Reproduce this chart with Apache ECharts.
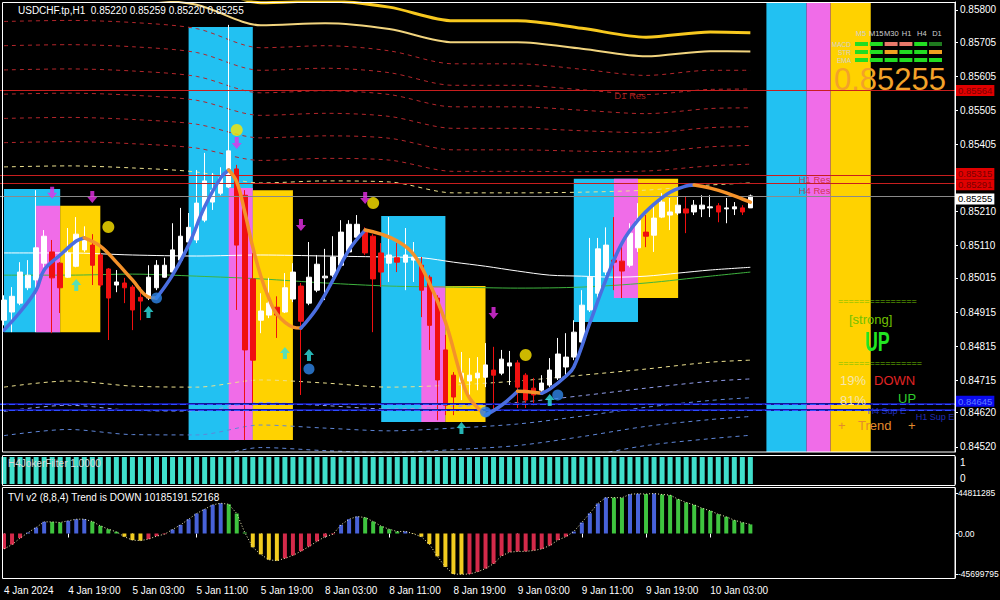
<!DOCTYPE html>
<html><head><meta charset="utf-8">
<script src="https://cdn.jsdelivr.net/npm/echarts@6/dist/echarts.min.js"></script>
<style>html,body{margin:0;padding:0;background:#000;}#c{width:1000px;height:600px;}</style>
</head><body><div id="c"></div>
<script>
// ---------------- DATA ----------------
const titleText = 'USDCHF.tp,H1  0.85220 0.85259 0.85220 0.85255';
const sessions = [['4 Jan', 11, 23], ['5 Jan', 0, 23], ['8 Jan', 0, 23], ['9 Jan', 0, 23], ['10 Jan', 0, 8]];
const futureSessions = [['10 Jan', 9, 23], ['11 Jan', 0, 9]];
const xTickBars = ['4 Jan 11:00','4 Jan 19:00','5 Jan 03:00','5 Jan 11:00','5 Jan 19:00','8 Jan 03:00','8 Jan 11:00','8 Jan 19:00','9 Jan 03:00','9 Jan 11:00','9 Jan 19:00','10 Jan 03:00'];
const xTickLabels = ['4 Jan 2024','4 Jan 19:00','5 Jan 03:00','5 Jan 11:00','5 Jan 19:00','8 Jan 03:00','8 Jan 11:00','8 Jan 19:00','9 Jan 03:00','9 Jan 11:00','9 Jan 19:00','10 Jan 03:00'];
const priceTicks = [0.85800,0.85705,0.85605,0.85505,0.85405,0.85210,0.85110,0.85015,0.84915,0.84815,0.84715,0.84620,0.84520];

// candles: [open, close, low, high]
const candles = [
[0.84891,0.84950,0.84876,0.84964],[0.84915,0.84961,0.84856,0.84988],[0.84941,0.85032,0.84935,0.85061],[0.84986,0.85023,0.84979,0.85067],
[0.85009,0.85103,0.84856,0.85272],[0.85058,0.85137,0.85046,0.85155],[0.85091,0.85015,0.84853,0.85126],[0.85058,0.84986,0.84912,0.85061],
[0.85017,0.85088,0.85015,0.85161],[0.85049,0.85143,0.85046,0.85193],[0.85097,0.85126,0.85091,0.85166],[0.85111,0.85052,0.84994,0.85143],
[0.85082,0.84994,0.84988,0.85088],[0.85041,0.84956,0.84833,0.85044],[0.84994,0.85003,0.84973,0.85038],[0.85000,0.84986,0.84941,0.85015],
[0.84988,0.84921,0.84862,0.84994],[0.84958,0.84947,0.84891,0.84988],[0.84956,0.85017,0.84950,0.85052],[0.84986,0.85052,0.84979,0.85067],
[0.85017,0.85052,0.85015,0.85074],[0.85032,0.85097,0.85029,0.85175],[0.85067,0.85137,0.85061,0.85220],[0.85120,0.85163,0.85117,0.85205],
[0.85126,0.85234,0.85117,0.85331],[0.85184,0.85299,0.85178,0.85381],[0.85237,0.85272,0.85214,0.85322],[0.85263,0.85308,0.85257,0.85339],
[0.85281,0.85387,0.85278,0.85756],[0.85334,0.85111,0.84921,0.85346],[0.85257,0.84804,0.84540,0.85272],[0.85012,0.84774,0.84642,0.85088],
[0.84891,0.84918,0.84853,0.84970],[0.84906,0.84941,0.84897,0.85015],[0.84929,0.84906,0.84839,0.84961],[0.84915,0.84986,0.84912,0.85029],
[0.84953,0.85032,0.84944,0.85058],[0.84991,0.84888,0.84672,0.85000],[0.84941,0.85017,0.84935,0.85120],[0.84979,0.85055,0.84973,0.85082],
[0.85015,0.85020,0.84950,0.85100],[0.85023,0.85076,0.85017,0.85137],[0.85052,0.85149,0.85046,0.85184],[0.85091,0.85172,0.85088,0.85184],
[0.85134,0.85172,0.85132,0.85199],[0.85152,0.85088,0.85082,0.85163],[0.85137,0.85012,0.84856,0.85143],[0.85088,0.85032,0.84988,0.85117],
[0.85058,0.85082,0.85003,0.85193],[0.85074,0.85061,0.85032,0.85117],[0.85061,0.85082,0.84979,0.85161],[0.85067,0.85076,0.85003,0.85120],
[0.85052,0.84979,0.84900,0.85076],[0.85017,0.84876,0.84804,0.85023],[0.84956,0.84716,0.84598,0.84964],[0.84804,0.84642,0.84613,0.84848],
[0.84730,0.84666,0.84613,0.84739],[0.84710,0.84736,0.84657,0.84798],[0.84713,0.84730,0.84672,0.84780],[0.84722,0.84736,0.84686,0.84783],
[0.84724,0.84760,0.84695,0.84824],[0.84745,0.84730,0.84628,0.84813],[0.84736,0.84777,0.84730,0.84804],[0.84757,0.84766,0.84701,0.84801],
[0.84766,0.84695,0.84634,0.84774],[0.84730,0.84657,0.84634,0.84736],[0.84692,0.84672,0.84642,0.84722],[0.84686,0.84707,0.84677,0.84730],
[0.84701,0.84745,0.84695,0.84780],[0.84722,0.84792,0.84716,0.84839],[0.84754,0.84783,0.84730,0.84853],[0.84783,0.84856,0.84774,0.84891],
[0.84827,0.84935,0.84818,0.84979],[0.84921,0.85017,0.84915,0.85132],[0.84970,0.85100,0.84950,0.85132],[0.85032,0.85111,0.85023,0.85163],
[0.85067,0.85061,0.84979,0.85193],[0.85064,0.85035,0.84956,0.85111],[0.85052,0.85146,0.85046,0.85175],[0.85103,0.85184,0.85091,0.85234],
[0.85149,0.85137,0.85105,0.85199],[0.85140,0.85190,0.85091,0.85228],[0.85193,0.85237,0.85190,0.85263],[0.85199,0.85208,0.85155,0.85249],
[0.85205,0.85228,0.85199,0.85252],[0.85217,0.85205,0.85146,0.85252],[0.85208,0.85228,0.85199,0.85243],[0.85217,0.85228,0.85193,0.85257],
[0.85220,0.85223,0.85193,0.85257],[0.85226,0.85208,0.85178,0.85234],[0.85217,0.85220,0.85175,0.85249],[0.85217,0.85223,0.85199,0.85237],
[0.85220,0.85208,0.85199,0.85228],[0.85220,0.85255,0.85220,0.85259]
];

// smoothed trend line, sampled [bar, price]
const trendPts = [[0,0.84862],[2,0.84915],[4,0.84979],[5,0.85038],[7,0.85082],[9,0.85123],[10,0.85132],[12,0.85108],[14,0.85061],[16,0.85009],[18,0.84959],[19,0.84956],[21,0.85023],[23,0.85111],[25,0.85223],[27,0.85308],[28,0.85331],[29,0.85296],[30,0.85208],[31,0.85105],[32,0.85020],[33,0.84956],[34,0.84909],[36,0.84871],[37,0.84868],[39,0.84927],[41,0.85009],[43,0.85097],[45,0.85155],[47,0.85143],[49,0.85123],[51,0.85085],[53,0.85000],[55,0.84886],[57,0.84722],[58,0.84663],[60,0.84613],[62,0.84642],[64,0.84683],[65,0.84682],[67,0.84677],[68,0.84689],[70,0.84727],[71,0.84754],[73,0.84883],[75,0.85009],[77,0.85117],[79,0.85184],[81,0.85231],[83,0.85266],[85,0.85284],[86,0.85287],[88,0.85278],[90,0.85264],[92,0.85246],[93,0.85237]];

// moving averages sampled at bars
const maBars = [0,8,16,24,32,40,48,52,56,60,64,68,72,76,80,84,88,93];
const whiteMA = [0.85088,0.85088,0.85082,0.85079,0.85082,0.85079,0.85076,0.85074,0.85061,0.85049,0.85035,0.85023,0.85020,0.85017,0.85020,0.85029,0.85038,0.85046];
const greenBars = [0,8,16,24,32,40,48,56,64,72,80,88,93];
const greenMA = [0.85023,0.85023,0.85026,0.85020,0.85012,0.85000,0.84991,0.84988,0.84985,0.84988,0.85000,0.85020,0.85032];

// envelope bands sampled at bars
const bandBars = [0,8,16,24,32,40,48,56,64,72,80,88,93];
const upperEdge = [0.85340,0.85343,0.85337,0.85325,0.85293,0.85299,0.85296,0.85264,0.85264,0.85266,0.85272,0.85287,0.85293];
const lowerEdge = [0.84695,0.84713,0.84698,0.84695,0.84716,0.84707,0.84695,0.84701,0.84713,0.84730,0.84748,0.84768,0.84774];
const bandGap = [0.00071,0.00071,0.00071,0.00070,0.00066,0.00066,0.00064,0.00063,0.00063,0.00060,0.00056,0.00056,0.00055];

// coloured zones [fromBar, toBar, low, high]
const zoneCyan = [[0,7,0.84856,0.85275],[23,31,0.84540,0.85750],[47,55,0.84593,0.85196],[71,79,0.84886,0.85305]];
const zonePink = [[4,7,0.84856,0.85226],[28,31,0.84540,0.85278],[52,55,0.84593,0.84991],[76,79,0.84956,0.85305]];
const zoneYellow = [[7,12,0.84856,0.85226],[31,36,0.84540,0.85272],[55,60,0.84593,0.84991],[79,84,0.84956,0.85305]];
const fullZoneBars = {cyan: [95,100], pink: [100,103], yellow: [103,108]};

// signals [bar, price]
const sellArrows = [[6,0.85264],[11,0.85252],[29,0.85410],[37,0.85170],[45,0.85249],[61,0.84912]];
const buyArrows = [[9,0.84994],[18,0.84915],[35,0.84795],[38,0.84789],[57,0.84575],[68,0.84657]];
const yellowDots = [[13,0.85164],[29,0.85448],[46,0.85234],[65,0.84789]];
const blueDots = [[19,0.84956],[38,0.84748],[60,0.84622],[69,0.84672]];

// levels
const resLevels = [0.85564, 0.85315, 0.85291];
const resNames = ['D1 Res', 'H1 Res', 'H4 Res'];
const resNameBars = [78, 101, 101];
const supLevels = [0.84645, 0.84628];
const supNames = ['H4 Sup E', 'H1 Sup E'];
const supNameBars = [110, 116];
const bidPrice = 0.85255;

// H4JokerFilter
const joker = [1,1,1,1,1,1,1,1,1,1,1,1,1,1,1,1,1,1,1,1,1,1,1,1,1,1,1,1,1,1,1,1,1,1,1,1,1,1,1,1,1,1,1,1,1,1,1,1,1,1,1,1,1,1,1,1,1,1,1,1,1,1,1,1,1,1,1,1,1,1,1,1,1,1,1,1,1,1,1,1,1,1,1,1,1,1,1,1,1,1,1,1,1,1];
const jokerLabel = 'H4JokerFilter 1.0000';

// TVI v2
const tvi = [-17300000,-12400000,-5200000,1100000,6700000,13100000,13000000,12300000,14200000,16000000,
16100000,13400000,8600000,4800000,1900000,-3600000,-7400000,-8000000,-6300000,-3000000,
-800000,4500000,9700000,16000000,22400000,27200000,32100000,33900000,32800000,22400000,
1100000,-15400000,-23400000,-29400000,-30500000,-27800000,-24500000,-19800000,-14600000,-8800000,
-3600000,-800000,9700000,16000000,19000000,17900000,13400000,8200000,4800000,2200000,
2400000,-300000,-3600000,-11800000,-25600000,-37400000,-45400000,-45699795,-45400000,-42900000,
-39300000,-33800000,-25000000,-20900000,-20100000,-20000000,-19000000,-17300000,-13500000,-7400000,
-3600000,2200000,12300000,22700000,33600000,40300000,40200000,40000000,44000000,44500000,
44200000,44811285,43700000,43000000,38400000,34700000,32100000,28300000,25400000,21600000,
18700000,14900000,12300000,10185191.52168];
const tviTicks = [44811285, 0, -45699795];
const tviLabel = 'TVI v2 (8,8,4) Trend is DOWN 10185191.52168';

// dashboard
const tfNames = ['M5','M15','M30','H1','H4','D1'];
const dashRows = ['MACD','STR','EMA'];
const dashStates = [['up','up','weak','weak','up','hold'],['up','up','mid','up','up','mid'],['up','up','up','up','up','up']];
const bigPrice = '0.85255';
const strengthWord = '[strong]';
const strengthDir = 'UP';
const pctDown = '19%', pctUp = '81%';

// ---------------- BUILD ----------------
const FONT = '"Liberation Sans", Arial, sans-serif';
function buildCats(list){ const out=[]; list.forEach(([d,a,b])=>{ for(let h=a;h<=b;h++) out.push(d+' '+String(h).padStart(2,'0')+':00'); }); return out; }
const barCats = buildCats(sessions);
const categories = barCats.concat(buildCats(futureSessions));
const tickMap = {}; xTickBars.forEach((b,i)=>tickMap[b]=xTickLabels[i]);

const priceMin = 0.84505, priceMax = 0.85823;

const C = {cyan:'#22c1f2', pink:'#f06ce8', yellow:'#ffd200', bull:'#ffffff', bear:'#f01010',
  up:'#4a6ee0', down:'#f4922a', red:'#c81e1e', bandRed:'#b3262b', bandYel:'#ece08e', bandBlue:'#5f86d8', bandBlue1:'#8f9be8',
  solid1:'#f7c81e', solid2:'#f1d47e', white:'#ffffff', green:'#3fb43f'};

function zoneSeries(data, color){
  return {type:'custom', xAxisIndex:0, yAxisIndex:0, z:1, silent:true, encode:{x:[0,1], y:[2,3]},
    data: data,
    renderItem:(params, api)=>{
      const p1 = api.coord([api.value(0), api.value(3)]);
      const p2 = api.coord([api.value(1), api.value(2)]);
      return {type:'rect', shape:{x:p1[0], y:p1[1], width:p2[0]-p1[0], height:p2[1]-p1[1]}, style:{fill:color}};
    }};
}
const series = [];
series.push(zoneSeries(zoneCyan.concat([[fullZoneBars.cyan[0], fullZoneBars.cyan[1], priceMin, priceMax]]), C.cyan));
series.push(zoneSeries(zonePink.concat([[fullZoneBars.pink[0], fullZoneBars.pink[1], priceMin, priceMax]]), C.pink));
series.push(zoneSeries(zoneYellow.concat([[fullZoneBars.yellow[0], fullZoneBars.yellow[1], priceMin, priceMax]]), C.yellow));

function bandLine(edge, k, sign){ return bandBars.map((b,j)=>[b, +(edge[j] + sign*k*bandGap[j]).toFixed(5)]); }
function lineS(data, color, width, type, z){ return {type:'line', xAxisIndex:0, yAxisIndex:0, data, smooth:0.3, showSymbol:false, silent:true, z:z||2,
  lineStyle:{color, width, type: type||'solid'}}; }
// upper bands
series.push(lineS(bandLine(upperEdge,0,1), C.bandYel, 1, [4,4]));
for(let k=1;k<=6;k++) series.push(lineS(bandLine(upperEdge,k,1), C.bandRed, 1, [4,4]));
series.push(lineS(bandLine(upperEdge,7,1), C.solid2, 2));
series.push(lineS(bandLine(upperEdge,8,1), C.solid1, 3));
// lower bands
series.push(lineS(bandLine(lowerEdge,0,-1), C.bandYel, 1, [4,4]));
series.push(lineS(bandLine(lowerEdge,1,-1), C.bandBlue1, 1, [4,4]));
for(let k=2;k<=4;k++) series.push(lineS(bandLine(lowerEdge,k,-1), C.bandBlue, 1, [4,4]));
// MAs
series.push(lineS(maBars.map((b,i)=>[b, whiteMA[i]]), C.white, 1, 'solid', 3));
series.push(lineS(greenBars.map((b,i)=>[b, greenMA[i]]), C.green, 1, 'solid', 3));

// level lines (labels in the price scale)
const resLabelShift = [0, -2, 1];
const mlData = [];
resLevels.forEach((p,i)=>mlData.push({yAxis:p, lineStyle:{color:C.red, width:1, type:'solid'},
  label:{show:true, formatter:p.toFixed(5), backgroundColor:'#e00000', color:'#7a0000', offset:[0, resLabelShift[i]]}}));
supLevels.forEach((p,i)=>{
  mlData.push({yAxis:p, lineStyle:{color:'#15159a', width:2, type:'solid'},
    label: i===0 ? {show:true, formatter:p.toFixed(5), backgroundColor:'#0b0bf0', color:'#5d7cff', offset:[0,-3]} : {show:false}});
  mlData.push({yAxis:p, lineStyle:{color:'#2f4dff', width:1, type:[6,3]}, label:{show:false}});
});
mlData.push({yAxis:bidPrice, lineStyle:{color:'#8a8a8a', width:1, type:'solid'},
  label:{show:true, formatter:bidPrice.toFixed(5), backgroundColor:'#ffffff', color:'#000000', offset:[0,3]}});
series.push({type:'line', xAxisIndex:0, yAxisIndex:0, data:[], z:3,
  markLine:{silent:true, symbol:['none','none'], animation:false, precision:5,
    label:{position:'end', distance:1, fontSize:9.5, fontFamily:FONT, padding:[1,2,0,2], lineHeight:10},
    data: mlData}});

// candles
series.push({type:'candlestick', xAxisIndex:0, yAxisIndex:0, data:candles, barWidth:5, z:4, silent:true,
  itemStyle:{color:C.bull, color0:C.bear, borderColor:C.bull, borderColor0:C.bear, borderWidth:1}});

// trend line coloured runs
(function(){
  let cur=null; const runs=[];
  for(let j=0;j<trendPts.length-1;j++){
    const up = trendPts[j+1][1] >= trendPts[j][1];
    if(!cur || cur.up!==up){ cur={up, pts:[trendPts[j]]}; runs.push(cur); }
    cur.pts.push(trendPts[j+1]);
  }
  runs.forEach(r=>series.push({type:'line', xAxisIndex:0, yAxisIndex:0, data:r.pts, smooth:0.4, showSymbol:false, silent:true, z:5,
    lineStyle:{color: r.up ? C.up : C.down, width:3.5, cap:'round'}}));
})();

// level names
const resNameShift = [0, -1, 1];
series.push({type:'scatter', xAxisIndex:0, yAxisIndex:0, symbolSize:0, z:6, silent:true,
  data: resLevels.map((p,i)=>({name:resNames[i], value:[resNameBars[i], p], label:{offset:[0,resNameShift[i]]}})).concat(
        supLevels.map((p,i)=>({name:supNames[i], value:[supNameBars[i], p], label:{color:'#2a3ae0', fontSize:9, distance:2}}))),
  label:{show:true, formatter:'{b}', position:'bottom', distance:1, color:'#cc2525', fontSize:9.5, lineHeight:9, fontFamily:FONT}});

// arrows & dots
const downArrow = 'path://M3,0 H7 V6 H10 L5,12 L0,6 H3 Z';
const upArrow = 'path://M5,0 L10,6 H7 V12 H3 V6 H0 Z';
series.push({type:'scatter', xAxisIndex:0, yAxisIndex:0, data:sellArrows, symbol:downArrow, symbolSize:[10,12], z:7, silent:true, itemStyle:{color:'#e830e8'}});
series.push({type:'scatter', xAxisIndex:0, yAxisIndex:0, data:buyArrows, symbol:upArrow, symbolSize:[10,12], z:7, silent:true, itemStyle:{color:'#30e2e2'}});
series.push({type:'scatter', xAxisIndex:0, yAxisIndex:0, data:yellowDots, symbol:'circle', symbolSize:12, z:7, silent:true, itemStyle:{color:'#ffe600'}});
series.push({type:'scatter', xAxisIndex:0, yAxisIndex:0, data:blueDots, symbol:'circle', symbolSize:11, z:7, silent:true, itemStyle:{color:'#2f86e8'}});

// joker
series.push({type:'bar', xAxisIndex:1, yAxisIndex:1, data:joker, barWidth:5, silent:true, itemStyle:{color:'#40dfcc'}});

// TVI
const tviColors = {blue:'#4862d8', green:'#3fc43f', yellow:'#f2cc1f', red:'#d42a4a'};
series.push({type:'bar', xAxisIndex:2, yAxisIndex:2, barWidth:4, silent:true,
  data: tvi.map((v,i)=>{ const prev = i>0 ? tvi[i-1] : v; let c;
    if(v>=0) c = v>=prev ? tviColors.blue : tviColors.green; else c = v<prev ? tviColors.yellow : tviColors.red;
    return {value:v, itemStyle:{color:c}}; })});
series.push({type:'line', xAxisIndex:2, yAxisIndex:2, data:tvi, showSymbol:false, silent:true, z:3,
  lineStyle:{color:'#f3efb8', width:1, type:[1,2]}});

// ---------------- GRAPHIC (chrome, panel texts) ----------------
const g = [];
const frame = {stroke:'#ffffff', fill:'none', lineWidth:1};
g.push({type:'rect', z:100, silent:true, shape:{x:2.5,y:2.5,width:952.5,height:449.5}, style:frame});
g.push({type:'rect', z:100, silent:true, shape:{x:2.5,y:455.5,width:952.5,height:30}, style:frame});
g.push({type:'rect', z:100, silent:true, shape:{x:2.5,y:487.5,width:952.5,height:91}, style:frame});
function txt(text, x, y, fill, size, opts){ return Object.assign({type:'text', z:110, silent:true,
  style:Object.assign({text, x, y, fill, font: (opts&&opts.weight?opts.weight+' ':'') + size+'px '+FONT, align:'left', verticalAlign:'middle'}, opts&&opts.style)}, opts&&opts.el); }
g.push(txt(titleText, 18, 10, '#ffffff', 10));
g.push(txt(jokerLabel, 8, 463, '#d8d8d8', 10));
g.push(txt(tviLabel, 8, 497, '#ffffff', 10));
// dashboard
const dashColors = {up:'#22dd22', weak:'#e8796a', hold:'#1f7a1f', mid:'#f0a020'};
tfNames.forEach((t,c)=>g.push(txt(t, 861 + c*15.2, 33, '#d0d0d0', 7.5, {style:{align:'center'}})));
dashRows.forEach((r,ri)=>{
  g.push(txt(r, 851, 44 + ri*8, '#d0d0d0', 6.5, {style:{align:'right'}}));
  dashStates[ri].forEach((s,c)=>g.push({type:'rect', z:110, silent:true, shape:{x:855 + c*14.8, y:42 + ri*8, width:13, height:4}, style:{fill:dashColors[s]}}));
});
g.push(txt(bigPrice, 946, 79, '#f3a229', 31, {style:{align:'right'}}));
g.push(txt('===============', 838, 301, '#72c000', 9));
g.push(txt(strengthWord, 849, 319, '#72c000', 13));
g.push(txt(strengthDir, 865, 342, '#22e622', 27, {weight:'bold', el:{scaleX:0.66, originX:865, originY:342}}));
g.push(txt('================', 838, 363, '#72c000', 9));
g.push(txt(pctDown, 840, 380, '#f6e6b0', 13));
g.push(txt('DOWN', 874, 380, '#e02424', 13));
g.push(txt(pctUp, 840, 400, '#f6e6b0', 13));
g.push(txt('UP', 898, 398, '#2ecc2e', 13));
g.push(txt('+', 838, 425, '#e38b2c', 13));
g.push(txt('Trend', 858, 425, '#e38b2c', 13));
g.push(txt('+', 908, 425, '#e38b2c', 13));

// ---------------- OPTION ----------------
const xBase = {type:'category', data:categories, boundaryGap:true, axisLine:{show:false}, axisTick:{show:false}, axisLabel:{show:false}, splitLine:{show:false}};
const gridBase = {left:0, right:45, containLabel:false, outerBoundsMode:'none'};
const option = {
  backgroundColor:'#000000', animation:false,
  textStyle:{fontFamily:FONT},
  grid:[
    Object.assign({top:2, height:450}, gridBase),
    Object.assign({top:457, height:27}, gridBase),
    Object.assign({top:488, height:90}, gridBase)
  ],
  xAxis:[
    Object.assign({gridIndex:0}, xBase),
    Object.assign({gridIndex:1}, xBase),
    Object.assign({}, xBase, {gridIndex:2,
      axisTick:{show:true, alignWithLabel:true, length:4, interval:(i,v)=>tickMap[v]!==undefined, lineStyle:{color:'#ffffff'}},
      axisLabel:{show:true, interval:(i,v)=>tickMap[v]!==undefined, formatter:(v)=>tickMap[v]||'', align:'left', color:'#ffffff', fontSize:10, margin:7, fontFamily:FONT}})
  ],
  yAxis:[
    {gridIndex:0, type:'value', position:'right', min:priceMin, max:priceMax, splitLine:{show:false},
      axisLine:{show:true, lineStyle:{color:'#ffffff'}},
      axisTick:{show:true, length:3, customValues:priceTicks, lineStyle:{color:'#ffffff'}},
      axisLabel:{show:true, customValues:priceTicks, formatter:(v)=>v.toFixed(5), color:'#ffffff', fontSize:10, margin:5, fontFamily:FONT}},
    {gridIndex:1, type:'value', position:'right', min:0, max:1, splitLine:{show:false},
      axisLine:{show:true, lineStyle:{color:'#ffffff'}}, axisTick:{show:false},
      axisLabel:{show:true, customValues:[0,1], formatter:(v)=> v===1 ? '{a|1}' : '{b|0}', color:'#ffffff', fontSize:10, margin:5, fontFamily:FONT,
        rich:{a:{padding:[10,0,0,0], fontSize:10, color:'#ffffff'}, b:{padding:[0,0,12,0], fontSize:10, color:'#ffffff'}}}},
    {gridIndex:2, type:'value', position:'right', min:-49840000, max:50960000, splitLine:{show:false},
      axisLine:{show:true, lineStyle:{color:'#ffffff'}},
      axisTick:{show:true, length:3, customValues:tviTicks, lineStyle:{color:'#ffffff'}},
      axisLabel:{show:true, customValues:tviTicks, formatter:(v)=> v===0 ? '0.00' : String(Math.round(v)), color:'#ffffff', fontSize:8.5, margin:3, fontFamily:FONT}}
  ],
  series,
  graphic: g
};
const chart = echarts.init(document.getElementById('c'), null, {renderer:'svg', width:1000, height:600});
chart.setOption(option);
</script>
</body></html>
